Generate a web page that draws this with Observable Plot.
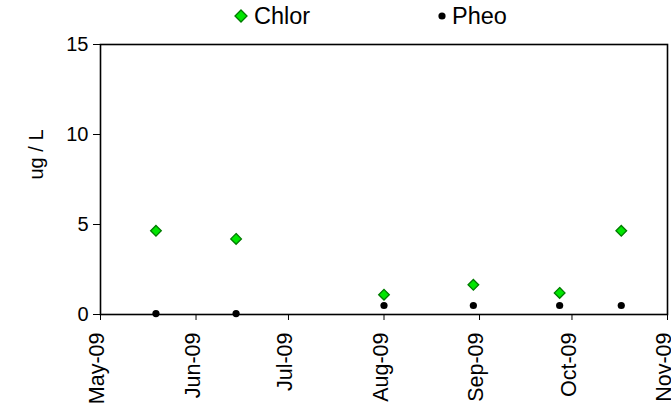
<!DOCTYPE html>
<html>
<head>
<meta charset="utf-8">
<script src="https://cdn.jsdelivr.net/npm/d3@7"></script>
<script src="https://cdn.jsdelivr.net/npm/@observablehq/plot@0.6"></script>
<style>
  html, body { margin: 0; padding: 0; background: #fff; }
  body { width: 671px; height: 411px; overflow: hidden; font-family: "Liberation Sans", Arial, sans-serif; }
  #legend { position: relative; height: 30px; width: 671px; font-size: 23.5px; color: #000; }
  .item { position: absolute; top: 2px; display: flex; align-items: center; height: 28px; }
  .item svg { margin-right: 5px; }
</style>
</head>
<body>
<div id="legend"></div>
<div id="chart"></div>
<script>
// ---- data ----
const sampleDates = ["2009-05-19", "2009-06-14", "2009-08-01", "2009-08-30", "2009-09-27", "2009-10-17"];
const chlor = [4.65, 4.2, 1.1, 1.65, 1.2, 4.65];
const pheo = [0.05, 0.05, 0.5, 0.5, 0.5, 0.5];
const seriesNames = ["Chlor", "Pheo"];
const yTicks = [0, 5, 10, 15];
const xDomain = ["2009-05-01", "2009-11-01"];
const yLabel = "ug / L";

const chlorColor = "#00e600";
const chlorStroke = "#007a00";
const pheoColor = "#000000";

const chlorData = sampleDates.map((d, i) => ({date: new Date(d), value: chlor[i]}));
const pheoData = sampleDates.map((d, i) => ({date: new Date(d), value: pheo[i]}));

// ---- legend ----
const legend = document.getElementById("legend");
legend.innerHTML = `
  <div class="item" style="left:233px">
    <svg width="16" height="16" viewBox="-8 -8 16 16"><path d="M0,-6L6,0L0,6L-6,0Z" fill="${chlorColor}" stroke="${chlorStroke}" stroke-width="1.3"/></svg>
    <span>${seriesNames[0]}</span>
  </div>
  <div class="item" style="left:437px">
    <svg width="10" height="10" viewBox="-5 -5 10 10"><circle r="3.6" fill="${pheoColor}"/></svg>
    <span>${seriesNames[1]}</span>
  </div>`;

// ---- chart ----
const monthTicks = d3.utcMonth.every(1);
const chart = Plot.plot({
  width: 671,
  height: 381,
  marginTop: 14,
  marginBottom: 97,
  marginLeft: 100,
  marginRight: 4,
  style: {fontFamily: "'Liberation Sans', Arial, sans-serif", background: "#fff", color: "#000", overflow: "visible"},
  x: {type: "utc", domain: xDomain.map(d => new Date(d))},
  y: {domain: [0, 15]},
  marks: [
    Plot.frame({stroke: "#000", strokeWidth: 1.6}),
    Plot.axisY({ticks: yTicks, tickSize: 7, tickPadding: 5, fontSize: 20, label: null, stroke: "#000", strokeOpacity: 1}),
    Plot.axisX({ticks: monthTicks, tickSize: 6, text: null, label: null, stroke: "#000", strokeOpacity: 1}),
    Plot.axisX({
      ticks: monthTicks,
      tickFormat: d3.utcFormat("%b-%y"),
      tickRotate: -90,
      tickSize: 0,
      tickPadding: 18,
      fontSize: 21.5,
      dx: -3,
      label: null
    }),
    Plot.text([yLabel], {frameAnchor: "left", dx: -64, rotate: -90, fontSize: 20, fill: "#000"}),
    Plot.dot(pheoData, {x: "date", y: "value", r: 3.6, fill: pheoColor, stroke: "none"}),
    Plot.dot(chlorData, {x: "date", y: "value", symbol: "diamond2", r: 4.8, fill: chlorColor, stroke: chlorStroke, strokeWidth: 1.3})
  ]
});
document.getElementById("chart").appendChild(chart);
</script>
</body>
</html>
